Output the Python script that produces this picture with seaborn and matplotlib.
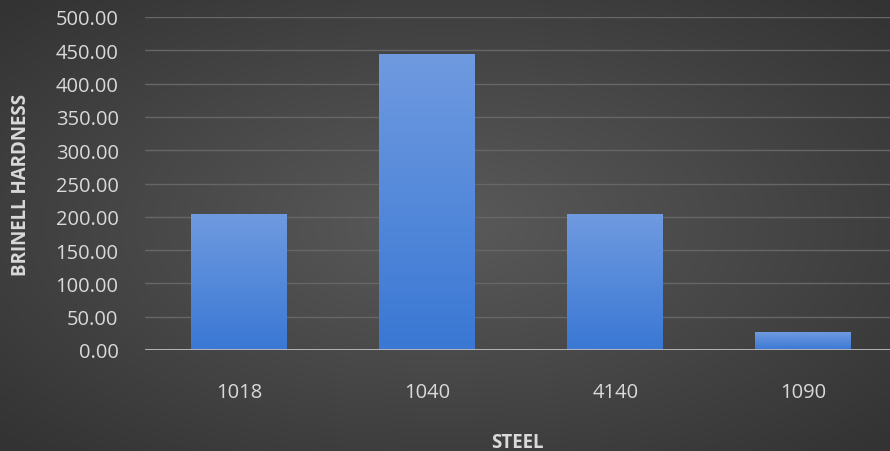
import numpy as np
import matplotlib
matplotlib.use("Agg")
import matplotlib.pyplot as plt
import pandas as pd
import seaborn as sns

steel = ["1018", "1040", "4140", "1090"]
hardness = [204.0, 444.0, 204.0, 27.0]
yticks = [0, 50, 100, 150, 200, 250, 300, 350, 400, 450, 500]

df = pd.DataFrame({"STEEL": steel, "BRINELL HARDNESS": hardness})

sns.set_theme(style="dark")
plt.rcParams['font.family'] = ['Open Sans', 'DejaVu Sans']

fig = plt.figure(figsize=(8.9, 4.52), dpi=100)

# radial dark background
bg = fig.add_axes([0, 0, 1, 1], zorder=-10)
yy, xx = np.mgrid[-1:1:300j, -1:1:600j]
r = np.sqrt((xx * 0.9) ** 2 + (yy * 0.9) ** 2)
bg.imshow(r, cmap=matplotlib.colors.LinearSegmentedColormap.from_list(
    "bg", ["#5a5a5a", "#474747", "#333333"]), aspect="auto", extent=[0, 1, 0, 1],
    vmin=0, vmax=1.25)
bg.axis("off")

ax = fig.add_axes([145 / 890, 1 - 351 / 452, 1 - 145 / 890, (351 - 18) / 452])
ax.set_facecolor("none")
sns.barplot(data=df, x="STEEL", y="BRINELL HARDNESS", ax=ax, color="#4a84dc",
            width=0.51, saturation=1, zorder=3, edgecolor="none", linewidth=0)

grad = np.linspace(0, 1, 100).reshape(-1, 1)
gcmap = matplotlib.colors.LinearSegmentedColormap.from_list("bar", ["#3a78d4", "#6f9ae0"])
for p in ax.patches:
    x0, y0 = p.get_x(), p.get_y()
    w, h = p.get_width(), p.get_height()
    im = ax.imshow(grad, cmap=gcmap, origin="lower", aspect="auto",
                   extent=[x0, x0 + w, y0, y0 + h], zorder=4)
    im.set_clip_path(p)

ax.set_xlim(-0.5, 3.46)
ax.set_ylim(0, 500)
ax.set_yticks(yticks)
ax.set_yticklabels([f"{v:.2f}" for v in yticks])
ax.yaxis.grid(True, color="#666666", linewidth=1, zorder=0)
ax.axhline(0, color="#bdbdbd", linewidth=2, zorder=5)
for s in ax.spines.values():
    s.set_visible(False)
ax.tick_params(axis="both", colors="#d9d9d9", labelsize=14.5, length=0)
ax.tick_params(axis="x", pad=23)
ax.tick_params(axis="y", pad=19)
ax.set_xlabel("STEEL", color="#d9d9d9", fontsize=13.5, fontweight="bold", labelpad=22)
ax.set_ylabel("BRINELL HARDNESS", color="#d9d9d9", fontsize=13.5, fontweight="bold", labelpad=18)

fig.savefig("out.png", dpi=100)
